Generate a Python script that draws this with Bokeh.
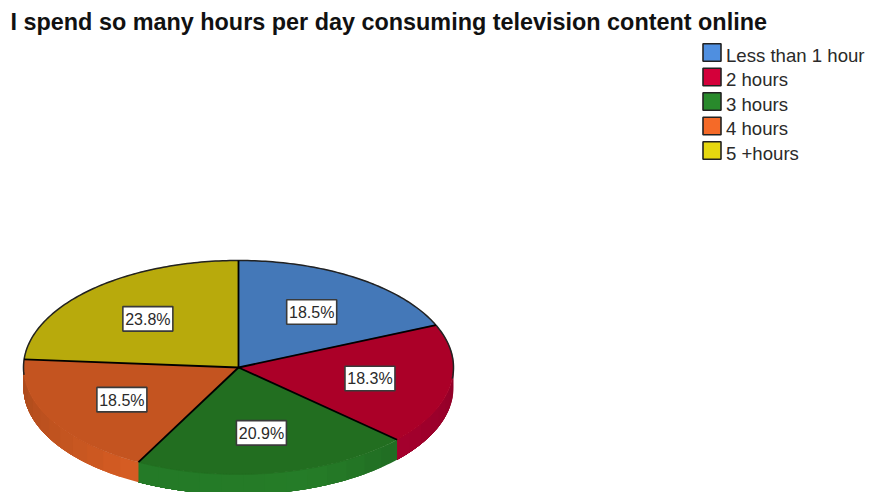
import numpy as np
from bokeh.embed import file_html
from bokeh.models import Range1d
from bokeh.plotting import figure
from bokeh.resources import INLINE
from bokeh.core.properties import value

TITLE = "I spend so many hours per day consuming television content online"
categories = ["Less than 1 hour", "2 hours", "3 hours", "4 hours", "5 +hours"]
shares = [18.5, 18.3, 20.9, 18.5, 23.8]
top_colors = ["#4478b8", "#ab0028", "#226e20", "#c45420", "#b8aa0c"]
key_colors = ["#4f8fe0", "#d4003a", "#298a2c", "#f56a28", "#e6d80f"]

FONT = "Liberation Sans"
CX, CY, RX, RY, DEPTH = 238.0, 367.0, 215.0, 107.0, 20.0


def rim(angle_deg, drop=0.0):
    """Point on the pie's rim; angles run clockwise from twelve o'clock."""
    a = np.radians(angle_deg)
    return CX + RX * np.sin(a), CY - RY * np.cos(a) + drop


def shaded(hex_color, factor):
    rgb = [int(hex_color[i:i + 2], 16) for i in (1, 3, 5)]
    return "#%02x%02x%02x" % tuple(int(round(c * factor)) for c in rgb)


p = figure(width=870, height=492, output_backend="svg", toolbar_location=None,
           x_range=Range1d(0, 870), y_range=Range1d(492, 0),
           min_border=0, outline_line_color=None, background_fill_color="white")
p.axis.visible = False
p.grid.visible = False

edges = np.concatenate([[0.0], np.cumsum(shares)]) * 3.6

# Side wall of the disc: each band runs on to the slice's far end and the next
# one paints over it, so no seams open up between neighbouring bands
for start, stop, color in zip(edges[:-1], edges[1:], key_colors):
    lo, hi = max(start, 90.0), min(stop, 270.0)
    if hi <= lo:
        continue
    marks = np.linspace(lo, hi, max(2, int(np.ceil((hi - lo) / 6.0)) + 1))
    for a0 in marks[:-1]:
        t = np.linspace(a0, hi, 60)
        x_top, y_top = rim(t)
        x_low, y_low = rim(t[::-1], DEPTH)
        factor = np.interp(a0 + 3.0, [90, 132, 160, 207, 270],
                           [0.67, 0.78, 0.90, 0.88, 0.69])
        p.patch(np.r_[x_top, x_low], np.r_[y_top, y_low],
                fill_color=shaded(color, factor), line_color=None)

# Top face of each slice
for start, stop, color in zip(edges[:-1], edges[1:], top_colors):
    t = np.linspace(start, stop, 90)
    x, y = rim(t)
    p.patch(np.r_[CX, x], np.r_[CY, y], fill_color=color,
            line_color=color, line_width=0.5)

# Dark outline: back half of the rim and the slice boundaries
t = np.linspace(266, 456, 200)
p.line(*rim(t), line_color="#222222", line_width=1.5)
for angle in edges[:-1]:
    ex, ey = rim(angle)
    p.line([CX, ex], [CY, ey], line_color="#000000", line_width=1.8)

# Percentage labels inside the slices
mids = (edges[:-1] + edges[1:]) / 2
lx = CX + 0.62 * RX * np.sin(np.radians(mids))
ly = CY - 0.62 * RY * np.cos(np.radians(mids))
p.rect(lx, ly, width=50, height=24.5, fill_color="white",
       line_color="#3a3a3a", line_width=1.6)
p.text(lx, ly + 0.5, text=[f"{s:.1f}%" for s in shares], text_font=value(FONT),
       text_font_size="16px", text_color="#2a2a2a",
       text_align="center", text_baseline="middle")

# Key in the top right corner
rows = 24.5 * np.arange(len(categories))
p.rect(np.full(len(rows), 711.5), 52.0 + rows, width=18, height=17.5,
       fill_color=key_colors, line_color="#222222", line_width=1.6)
p.text(np.full(len(rows), 725.5), 54.5 + rows, text=categories, text_font=value(FONT),
       text_font_size="18.6px", text_color="#2a2a2a",
       text_align="left", text_baseline="middle")

p.text([10], [21.5], text=[TITLE], text_font=value(FONT), text_font_size="23.4px",
       text_font_style="bold", text_color="#111111",
       text_align="left", text_baseline="middle")

open("out.html", "w").write(file_html(p, INLINE))
